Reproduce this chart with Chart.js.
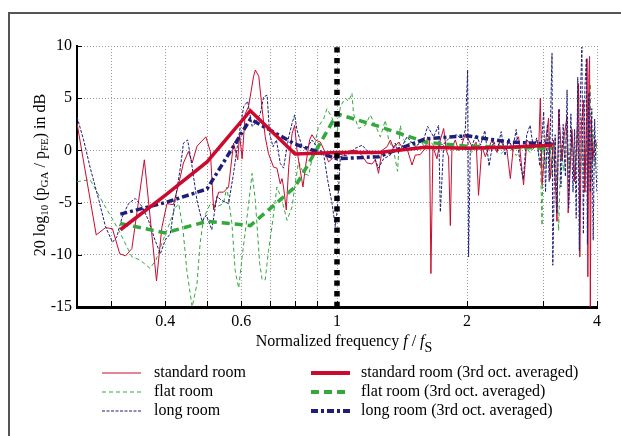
<!DOCTYPE html>
<html>
<head>
<meta charset="utf-8">
<script src="https://cdn.jsdelivr.net/npm/chart.js@4.4.0/dist/chart.umd.min.js"></script>
<style>
    html, body { margin: 0; padding: 0; background: #fff; }
    #wrap { width: 621px; height: 436px; }
</style>
</head>
<body>
<div id="wrap"><canvas id="grafico" width="621" height="436"></canvas></div>
<script>
// datos: [f / fS, dB]

const standardRoom = [
    [0.25, 2.6], [0.277, -8.1], [0.291, -7.4], [0.302, -7.5], [0.314, -9.9], [0.324, -10.1], [0.335, -9.4],
    [0.358, -0.9], [0.382, -12.5], [0.393, -7.4], [0.404, -5.1], [0.418, -5.2], [0.43, -3.2], [0.441, -1.2],
    [0.453, -0.1], [0.462, -1.2], [0.474, 0.4], [0.497, 1.3], [0.509, -0.1], [0.518, -5.7], [0.532, -4.0],
    [0.546, -4.0], [0.561, -3.5], [0.576, 0.7], [0.589, -0.9], [0.595, 1.5], [0.603, -0.8], [0.613, 3.5],
    [0.624, 4.2], [0.641, 7.1], [0.647, 7.7], [0.659, 7.1], [0.67, 4.2], [0.682, 1.3], [0.694, -0.3],
    [0.713, -1.6], [0.726, -1.7], [0.739, -3.2], [0.746, -2.7], [0.752, -3.5], [0.763, -5.7], [0.773, -1.6],
    [0.787, 1.6], [0.798, 2.4], [0.808, 0.0], [0.822, -1.9], [0.834, -3.5], [0.845, -1.6], [0.864, 1.0],
    [0.875, 1.5], [0.891, 1.0], [0.915, 0.8], [0.934, 0.0], [0.956, -1.1], [0.974, -0.8], [1.0, -0.3],
    [1.036, -0.45], [1.073, 0.0], [1.112, 0.0], [1.143, -0.5], [1.173, -1.2], [1.205, -1.3], [1.227, -0.9],
    [1.248, -2.2], [1.271, 0.0], [1.306, 0.35], [1.329, 1.0], [1.352, 0.2], [1.389, 0.8], [1.414, 0.35],
    [1.452, 0.2], [1.492, -1.4], [1.518, -0.45], [1.559, -0.4], [1.601, 0.2], [1.621, 1.3], [1.638, 1.0],
    [1.65, -11.8], [1.668, 0.35], [1.704, -0.8], [1.735, 1.0], [1.766, 2.1], [1.791, 0.0], [1.813, -0.6],
    [1.83, -7.2], [1.846, 0.35], [1.879, 1.0], [1.912, 0.0], [1.948, 0.6], [1.982, 1.6], [2.017, 1.0],
    [2.06, 0.3], [2.1, 0.8], [2.127, -4.3], [2.166, 0.4], [2.205, -0.6], [2.285, 1.0], [2.347, -0.2],
    [2.388, 1.0], [2.431, 0.4], [2.475, 0.0], [2.52, -2.7], [2.564, 0.6], [2.633, 1.3], [2.704, -3.3],
    [2.754, 1.0], [2.828, 0.4], [2.905, 1.0], [2.93, 0.0], [2.957, 5.0], [2.984, -3.3], [3.036, 0.6],
    [3.09, 3.1], [3.118, -2.7], [3.174, 1.0], [3.231, -6.8], [3.26, 3.9], [3.319, -1.0], [3.36, 1.5],
    [3.408, 3.2], [3.43, -6.0], [3.47, -1.5], [3.5, 2.0], [3.55, -3.0], [3.59, 0.5], [3.626, 6.4],
    [3.65, -10.2], [3.68, 2.5], [3.724, 4.8], [3.75, -4.0], [3.78, 3.0], [3.792, 8.8], [3.81, -12.1],
    [3.83, 7.0], [3.845, 9.0], [3.86, -15], [3.88, 3.0], [3.91, -1.0], [3.95, 1.0], [4.0, 0.5]
];

const flatRoom = [
    [0.25, -3.0], [0.268, -2.8], [0.288, -5.1], [0.312, -7.6], [0.335, -10.2], [0.35, -10.5], [0.369, -11.3],
    [0.381, -10.5], [0.393, -8.9], [0.407, -7.3], [0.422, -5.5], [0.43, -5.1], [0.44, -7.6], [0.449, -11.5],
    [0.462, -15], [0.474, -12.8], [0.482, -8.9], [0.491, -6.5], [0.509, -5.1], [0.527, -5.4], [0.546, -5.1],
    [0.556, -3.5], [0.571, -7.0], [0.581, -11.5], [0.592, -13.2], [0.603, -10.2], [0.619, -6.4], [0.636, -2.2],
    [0.647, -4.8], [0.662, -10.8], [0.671, -12.4], [0.682, -12.4], [0.694, -9.6], [0.707, -7.3], [0.726, -3.5],
    [0.746, -4.8], [0.766, -6.7], [0.787, -5.4], [0.8, -3.2], [0.815, -1.1], [0.837, -2.2], [0.86, -2.4],
    [0.883, 0.0], [0.906, 2.3], [0.931, 3.0], [0.948, 4.0], [0.974, 3.1], [1.0, 1.5], [1.018, 4.2],
    [1.045, 5.0], [1.064, 4.7], [1.083, 5.5], [1.092, 3.5], [1.122, 2.1], [1.163, 2.4], [1.194, 3.4],
    [1.227, 2.4], [1.26, 1.3], [1.294, 2.9], [1.317, 1.0], [1.352, 0.0], [1.381, -2.0], [1.401, 2.4],
    [1.427, 1.0], [1.46, 0.6], [1.492, 0.8], [1.53, 0.3], [1.559, 0.9], [1.6, 0.3], [1.65, 0.8], [1.7, 0.1],
    [1.75, 0.6], [1.8, 0.2], [1.85, 0.7], [1.9, 0.0], [1.95, 0.5], [2.0, 0.3], [2.05, -0.2], [2.1, 0.6],
    [2.2, 0.1], [2.3, 0.5], [2.4, -0.3], [2.5, 0.4], [2.6, -0.5], [2.7, 0.5], [2.8, -0.2], [2.9, 0.6],
    [2.96, -1.0], [2.984, -7.2], [3.0, 0.5], [3.05, -1.5], [3.1, 1.5], [3.15, -2.5], [3.2, 1.0], [3.26, -7.7],
    [3.3, 0.5], [3.35, -2.0], [3.4, 2.0], [3.45, -1.5], [3.5, 1.5], [3.55, -2.5], [3.6, 2.0], [3.65, -3.0],
    [3.7, 1.0], [3.75, -4.0], [3.8, 3.5], [3.86, 6.4], [3.88, -3.0], [3.92, 2.0], [3.96, -1.5], [4.0, 1.0]
];

const longRoom = [
    [0.25, 3.2], [0.259, 1.0], [0.268, -1.6], [0.281, -4.8], [0.291, -7.3], [0.302, -8.8], [0.309, -8.3],
    [0.318, -6.4], [0.329, -5.1], [0.341, -4.6], [0.354, -5.4], [0.366, -6.7], [0.379, -8.6], [0.39, -9.9],
    [0.4, -8.6], [0.411, -8.0], [0.422, -4.8], [0.434, -1.6], [0.441, 0.7], [0.451, 1.0], [0.462, -1.6],
    [0.474, -4.8], [0.487, -6.8], [0.498, -6.2], [0.513, -7.6], [0.527, -4.4], [0.541, -4.8], [0.561, -5.1],
    [0.576, -2.2], [0.592, 1.3], [0.608, 4.2], [0.621, 4.7], [0.636, 2.3], [0.647, 2.6], [0.664, 3.5],
    [0.676, 5.1], [0.689, 5.3], [0.698, 1.6], [0.711, 0.35], [0.724, 1.0], [0.739, -1.25], [0.752, -1.7],
    [0.773, 1.3], [0.787, 2.6], [0.798, 3.4], [0.808, 1.95], [0.83, 0.35], [0.852, 0.2], [0.875, 1.0],
    [0.899, 0.35], [0.931, -0.3], [0.951, -2.8], [0.974, -5.1], [0.991, -7.3], [1.003, -5.4], [1.018, -0.6],
    [1.055, -0.45], [1.103, 0.2], [1.143, 0.5], [1.173, 0.0], [1.216, -0.5], [1.248, -1.7], [1.282, -0.8],
    [1.329, -0.45], [1.364, 0.7], [1.389, -0.3], [1.452, 1.3], [1.518, 0.35], [1.587, 1.0], [1.621, 2.3],
    [1.674, 1.3], [1.719, 2.4], [1.735, -5.9], [1.766, 0.6], [1.83, 1.3], [1.896, 1.5], [1.948, 1.0],
    [1.982, 1.95], [2.007, 7.7], [2.017, -10.2], [2.035, 0.0], [2.1, 1.5], [2.15, 0.5], [2.2, 1.9],
    [2.25, -1.5], [2.3, 1.0], [2.35, 0.0], [2.4, 1.8], [2.45, -0.5], [2.5, 1.2], [2.55, 0.0], [2.6, 2.0],
    [2.65, -1.0], [2.7, -2.8], [2.75, 1.5], [2.8, 2.4], [2.85, 0.2], [2.9, 1.2], [2.95, -1.5], [3.01, 3.7],
    [3.04, -4.0], [3.07, 2.5], [3.1, -3.0], [3.147, 9.3], [3.16, -11.0], [3.2, 1.5], [3.23, -6.0], [3.27, 4.0],
    [3.3, -3.5], [3.34, 2.5], [3.38, -2.5], [3.41, 5.8], [3.44, -5.5], [3.48, 3.5], [3.52, -4.0], [3.55, 2.0],
    [3.58, -6.5], [3.61, 7.0], [3.64, -9.6], [3.66, 5.0], [3.69, 9.9], [3.72, -8.0], [3.75, 6.0], [3.78, 8.8],
    [3.8, -9.0], [3.83, 5.5], [3.86, -4.0], [3.89, 4.0], [3.92, -8.6], [3.95, 3.0], [3.98, -2.0], [4.0, -4.0]
];

// tercios de octava
const octCenters = [0.315, 0.4, 0.5, 0.63, 0.8, 1, 1.25, 1.6, 2, 2.5, 3.15];
const standardAvg = [-7.6, -4.3, -1.1, 3.8, -0.35, -0.2, -0.2, 0.3, 0.2, 0.3, 0.5];
const flatAvg = [-7.0, -7.9, -6.8, -7.2, -3.5, 3.5, 2.3, 0.8, 0.4, 0.3, 0.2];
const longAvg = [-6.1, -5.0, -3.7, 3.0, 0.6, -0.8, -0.6, 1.1, 1.4, 0.8, 0.6];

// ejes
const xTicks = [0.3, 0.4, 0.5, 0.6, 0.7, 0.8, 0.9, 1, 2, 3, 4];
const xLabels = [0.4, 0.6, 1, 2, 4];
const yTicks = [-15, -10, -5, 0, 5, 10];

const RED = '#cc0a2e';
const GREEN = '#34a83c';
const NAVY = '#1e1e78';
const fuente = '"Liberation Serif", "Times New Roman", serif';

function pares(lista) {
    return lista.map(p => ({ x: p[0], y: p[1] }));
}
function promedio(vals) {
    return octCenters.map((f, i) => ({ x: f, y: vals[i] }));
}

// js para dibujar texto con subindices
function textoCompuesto(ctx, partes, x, y) {
    let total = 0;
    partes.forEach(p => { ctx.font = p.font; total += ctx.measureText(p.t).width; });
    let cx = x - total / 2;
    partes.forEach(p => {
        ctx.font = p.font;
        ctx.fillText(p.t, cx, y + (p.dy || 0));
        cx += ctx.measureText(p.t).width;
    });
}

const leyendaItems = [
    { ds: 1, label: 'standard room', col: 0, row: 0 },
    { ds: 2, label: 'flat room', col: 0, row: 1 },
    { ds: 3, label: 'long room', col: 0, row: 2 },
    { ds: 4, label: 'standard room (3rd oct. averaged)', col: 1, row: 0 },
    { ds: 5, label: 'flat room (3rd oct. averaged)', col: 1, row: 1 },
    { ds: 6, label: 'long room (3rd oct. averaged)', col: 1, row: 2 }
];

const extrasPlugin = {
    id: 'extras',
    beforeDraw(chart) {
        const ctx = chart.ctx;
        ctx.save();
        ctx.fillStyle = '#fff';
        ctx.fillRect(0, 0, chart.width, chart.height);
        ctx.strokeStyle = '#555';
        ctx.lineWidth = 2;
        ctx.beginPath();
        ctx.moveTo(9, 436);
        ctx.lineTo(9, 13);
        ctx.lineTo(621, 13);
        ctx.stroke();
        ctx.restore();
    },
    afterDraw(chart) {
        const { ctx, chartArea, scales } = chart;
        ctx.save();

        // marcas hacia dentro
        ctx.strokeStyle = '#000';
        ctx.lineWidth = 1;
        ctx.beginPath();
        xTicks.forEach(v => {
            const px = Math.round(scales.x.getPixelForValue(v)) + 0.5;
            ctx.moveTo(px, chartArea.bottom);
            ctx.lineTo(px, chartArea.bottom - 6);
        });
        yTicks.forEach(v => {
            const py = Math.round(scales.y.getPixelForValue(v)) + 0.5;
            ctx.moveTo(chartArea.left, py);
            ctx.lineTo(chartArea.left + 5, py);
        });
        ctx.stroke();

        ctx.fillStyle = '#000';
        ctx.textBaseline = 'alphabetic';

        // titulo eje x
        textoCompuesto(ctx, [
            { t: 'Normalized frequency ', font: '16px ' + fuente },
            { t: 'f', font: 'italic 16px ' + fuente },
            { t: ' / ', font: '16px ' + fuente },
            { t: 'f', font: 'italic 16px ' + fuente },
            { t: 'S', font: '14px ' + fuente, dy: 6 }
        ], 344, 346);

        // titulo eje y
        ctx.save();
        ctx.translate(45, 175);
        ctx.rotate(-Math.PI / 2);
        textoCompuesto(ctx, [
            { t: '20 log', font: '16px ' + fuente },
            { t: '10', font: '11px ' + fuente, dy: 3 },
            { t: ' (p', font: '16px ' + fuente },
            { t: 'GA', font: '11px ' + fuente, dy: 3 },
            { t: ' / p', font: '16px ' + fuente },
            { t: 'FE', font: '11px ' + fuente, dy: 3 },
            { t: ') in dB', font: '16px ' + fuente }
        ], 0, 0);
        ctx.restore();

        // leyenda
        const colX = [[102, 141, 154], [311, 350, 361]];
        const rowY = [373, 392, 411];
        ctx.font = '16px ' + fuente;
        ctx.textBaseline = 'middle';
        leyendaItems.forEach(it => {
            const ds = chart.data.datasets[it.ds];
            const [x1, x2, tx] = colX[it.col];
            const y = rowY[it.row];
            ctx.save();
            ctx.strokeStyle = ds.borderColor;
            ctx.lineWidth = it.col === 0 ? 1.2 : 4;
            ctx.setLineDash(ds.borderDash || []);
            ctx.beginPath();
            ctx.moveTo(x1, y);
            ctx.lineTo(x2, y);
            ctx.stroke();
            ctx.restore();
            ctx.fillText(it.label, tx, y);
        });

        ctx.restore();
    }
};

const ctx = document.getElementById('grafico').getContext('2d');
new Chart(ctx, {
    type: 'line',
    data: {
        datasets: [
            {
                label: 'f = fS',
                data: [{ x: 1, y: -15 }, { x: 1, y: 10 }],
                borderColor: '#000',
                borderWidth: 5.5,
                borderDash: [5.3, 5.3],
                order: 0
            },
            {
                label: 'standard room',
                data: pares(standardRoom),
                borderColor: RED,
                borderWidth: 1,
                order: 5
            },
            {
                label: 'flat room',
                data: pares(flatRoom),
                borderColor: GREEN,
                borderWidth: 1,
                borderDash: [4, 3],
                order: 6
            },
            {
                label: 'long room',
                data: pares(longRoom),
                borderColor: NAVY,
                borderWidth: 1,
                borderDash: [3, 1.5],
                order: 4
            },
            {
                label: 'standard room (3rd oct. averaged)',
                data: promedio(standardAvg),
                borderColor: RED,
                borderWidth: 3.5,
                order: 1
            },
            {
                label: 'flat room (3rd oct. averaged)',
                data: promedio(flatAvg),
                borderColor: GREEN,
                borderWidth: 3.5,
                borderDash: [8, 5],
                order: 3
            },
            {
                label: 'long room (3rd oct. averaged)',
                data: promedio(longAvg),
                borderColor: NAVY,
                borderWidth: 3.5,
                borderDash: [7, 3, 3, 3],
                order: 2
            }
        ]
    },
    options: {
        responsive: false,
        animation: false,
        events: [],
        parsing: true,
        elements: {
            point: { radius: 0 },
            line: { tension: 0, fill: false, borderCapStyle: 'butt' }
        },
        layout: {
            padding: { top: 46, right: 24, bottom: 99, left: 0 }
        },
        plugins: {
            legend: { display: false },
            tooltip: { enabled: false }
        },
        scales: {
            x: {
                type: 'logarithmic',
                min: 0.25,
                max: 4,
                afterBuildTicks: (scale) => {
                    scale.ticks = xTicks.map(v => ({ value: v }));
                },
                afterFit: (scale) => { scale.height = 30; },
                ticks: {
                    autoSkip: false,
                    maxRotation: 0,
                    padding: 5,
                    color: '#000',
                    font: { family: fuente, size: 16 },
                    callback: (value) => xLabels.includes(value) ? String(value) : ''
                },
                grid: {
                    color: '#9a9a9a',
                    lineWidth: 1,
                    drawTicks: false
                },
                border: { display: true, color: '#000', width: 3, dash: [1, 2] }
            },
            y: {
                min: -15,
                max: 10,
                afterFit: (scale) => { scale.width = 77; },
                ticks: {
                    stepSize: 5,
                    padding: 5,
                    color: '#000',
                    font: { family: fuente, size: 16 }
                },
                grid: {
                    color: '#9a9a9a',
                    lineWidth: 1,
                    drawTicks: false
                },
                border: { display: true, color: '#000', width: 2, dash: [1, 2] }
            }
        }
    },
    plugins: [extrasPlugin]
});
</script>
</body>
</html>
